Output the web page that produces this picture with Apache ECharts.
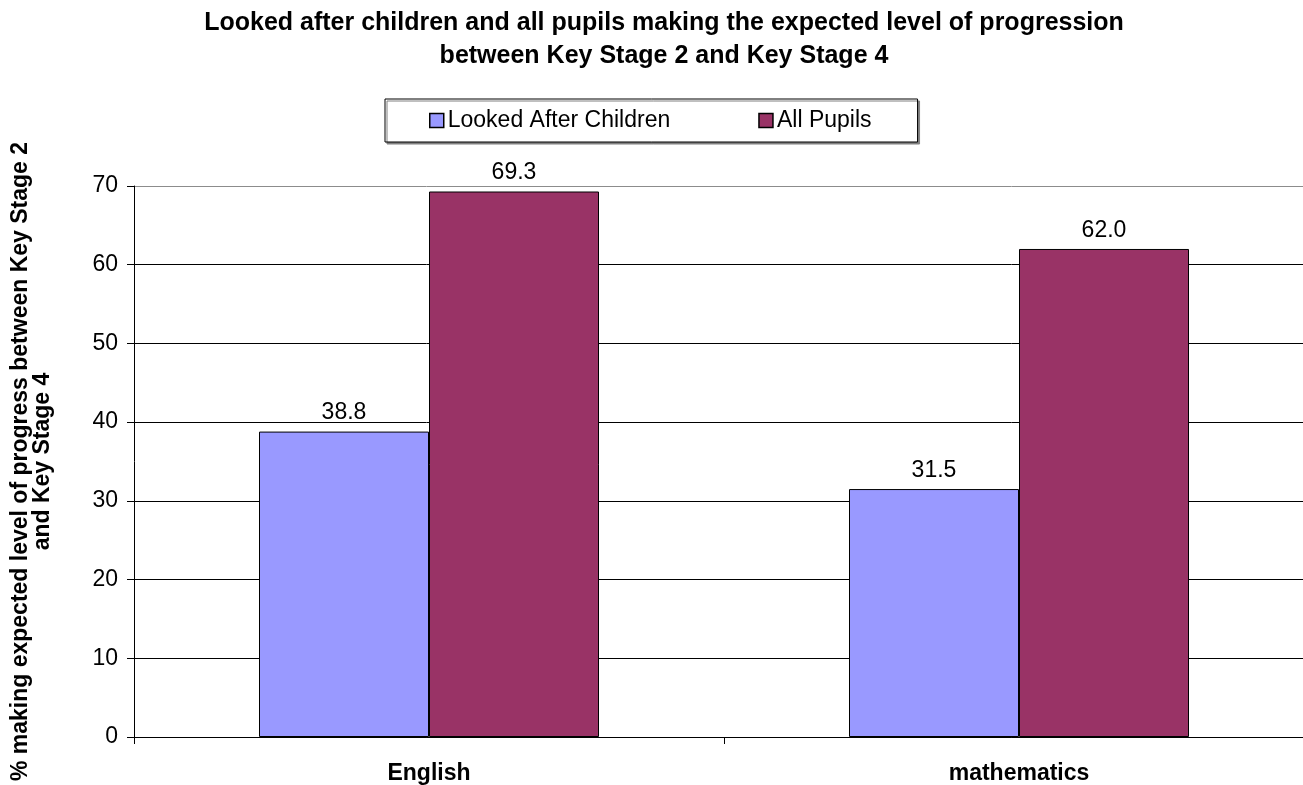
<!DOCTYPE html>
<html>
<head>
<meta charset="utf-8">
<title>Looked after children progression KS2 to KS4</title>
<script src="https://cdn.jsdelivr.net/npm/echarts@6/dist/echarts.min.js"></script>
<style>
  html, body { margin: 0; padding: 0; background: #fff; }
  #chart { width: 1303px; height: 785px; }
</style>
</head>
<body>
<div id="chart"></div>
<script>
// Subjects along the category axis
const subjects = ['English', 'mathematics'];
// Percentage making expected progress, per group
const lookedAfterChildren = [38.8, 31.5];
const allPupils = [69.3, 62.0];
// Value axis range
const yMin = 0;
const yMax = 70;
const yStep = 10;

const FONT = '"Liberation Sans", Arial, sans-serif';

const chart = echarts.init(document.getElementById('chart'), null, { renderer: 'canvas' });

const valueLabel = {
  show: true,
  position: 'top',
  distance: 7,
  color: '#000',
  fontFamily: FONT,
  fontSize: 23,
  formatter: p => p.value.toFixed(1)
};

chart.setOption({
  backgroundColor: '#fff',
  animation: false,
  title: {
    text: 'Looked after children and all pupils making the expected level of progression\nbetween Key Stage 2 and Key Stage 4',
    left: 664,
    top: 2,
    padding: [5, 0, 5, 0],
    textAlign: 'center',
    textStyle: {
      fontFamily: FONT,
      fontSize: 25,
      fontWeight: 'bold',
      color: '#000',
      lineHeight: 33
    }
  },
  legend: {
    left: 385,
    top: 99,
    padding: [10, 46, 10, 44],
    itemGap: 88,
    itemWidth: 14,
    itemHeight: 14,
    icon: 'rect',
    borderColor: '#000',
    borderWidth: 1,
    backgroundColor: '#fff',
    shadowColor: '#808080',
    shadowBlur: 0,
    shadowOffsetX: 2,
    shadowOffsetY: 2,
    textStyle: {
      fontFamily: FONT,
      fontSize: 23,
      color: '#000',
      padding: [0, 0, 0, -1]
    },
    itemStyle: { borderColor: '#000', borderWidth: 1.5 },
    data: ['Looked After Children', 'All Pupils']
  },
  grid: {
    left: 134,
    top: 186,
    width: 1180,
    height: 551,
    outerBoundsMode: 'none',
    containLabel: false
  },
  xAxis: {
    type: 'category',
    data: subjects,
    boundaryGap: true,
    axisLine: { lineStyle: { color: '#000', width: 1 } },
    axisTick: { show: true, length: 7, lineStyle: { color: '#000' } },
    axisLabel: {
      margin: 25,
      color: '#000',
      fontFamily: FONT,
      fontSize: 23,
      fontWeight: 'bold'
    },
    splitLine: { show: false }
  },
  yAxis: {
    type: 'value',
    min: yMin,
    max: yMax,
    interval: yStep,
    name: '% making expected level of progress between Key Stage 2\nand Key Stage 4',
    nameLocation: 'middle',
    nameGap: 80,
    nameRotate: 90,
    nameMoveOverlap: false,
    nameTextStyle: {
      fontFamily: FONT,
      fontSize: 23,
      fontWeight: 'bold',
      color: '#000',
      lineHeight: 22
    },
    axisLine: { show: true, lineStyle: { color: '#000', width: 1 } },
    axisTick: { show: true, length: 7, lineStyle: { color: '#000' } },
    axisLabel: {
      margin: 16,
      color: '#000',
      fontFamily: FONT,
      fontSize: 23
    },
    splitLine: {
      show: true,
      lineStyle: {
        color: ['#000', '#000', '#000', '#000', '#000', '#000', '#000', '#8c8c8c'],
        width: 1
      }
    }
  },
  series: [
    {
      name: 'Looked After Children',
      type: 'bar',
      data: lookedAfterChildren,
      barWidth: 170,
      barGap: '0%',
      itemStyle: { color: '#9999FF', borderColor: '#000', borderWidth: 1 },
      label: valueLabel
    },
    {
      name: 'All Pupils',
      type: 'bar',
      data: allPupils,
      barWidth: 170,
      barGap: '0%',
      itemStyle: { color: '#993366', borderColor: '#000', borderWidth: 1 },
      label: valueLabel
    }
  ]
});
</script>
</body>
</html>
